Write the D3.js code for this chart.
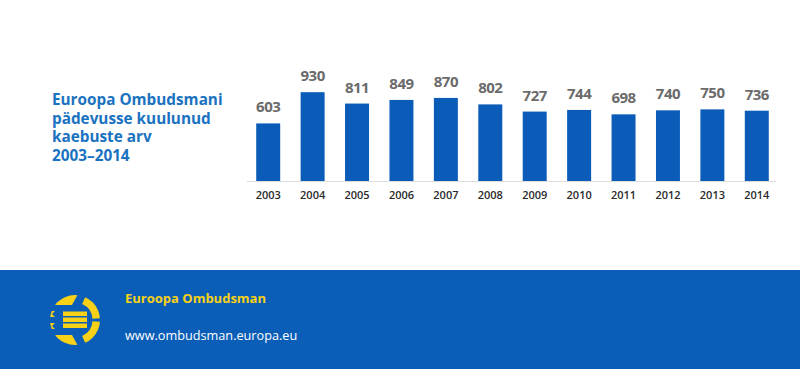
<!DOCTYPE html>
<html>
<head>
<meta charset="utf-8">
<script src="https://cdn.jsdelivr.net/npm/d3@7"></script>
<style>
    body { margin: 0; background: #fff; }
    svg { display: block; font-family: "Open Sans", sans-serif; }
</style>
</head>
<body>
<div id="chart"></div>
<script>
    "use strict";

    const years = ["2003", "2004", "2005", "2006", "2007", "2008", "2009", "2010", "2011", "2012", "2013", "2014"];
    const complaints = [603, 930, 811, 849, 870, 802, 727, 744, 698, 740, 750, 736];
    const titleLines = ["Euroopa Ombudsmani", "pädevusse kuulunud", "kaebuste arv", "2003–2014"];
    const footerName = "Euroopa Ombudsman";
    const footerUrl = "www.ombudsman.europa.eu";

    const width = 800;
    const height = 369;

    const svg = d3.select("#chart").append("svg")
        .attr("width", width)
        .attr("height", height);

    // title on the left
    svg.append("text")
        .attr("x", 52)
        .attr("y", 105)
        .attr("fill", "#1a72c0")
        .attr("font-size", 15.3)
        .attr("font-weight", 700)
        .selectAll("tspan")
        .data(titleLines)
        .join("tspan")
        .attr("x", 52)
        .attr("dy", (d, i) => i === 0 ? 0 : 18.7)
        .text(d => d);

    const xScale = d3.scaleBand()
        .domain(years)
        .range([246, 779])
        .paddingInner(0.46)
        .paddingOuter(0.23);

    const yScale = d3.scaleLinear()
        .domain([0, 1000])
        .range([181, 85.5]);

    svg.append("line")
        .attr("x1", 247)
        .attr("x2", 776)
        .attr("y1", yScale(0) + 0.5)
        .attr("y2", yScale(0) + 0.5)
        .attr("stroke", "#dcdcdc");

    svg.selectAll("rect.bar")
        .data(complaints)
        .join("rect")
        .attr("class", "bar")
        .attr("x", (d, i) => xScale(years[i]))
        .attr("width", xScale.bandwidth())
        .attr("y", d => yScale(d))
        .attr("height", d => yScale(0) - yScale(d))
        .attr("fill", "#0a5cb8");

    svg.selectAll("text.value")
        .data(complaints)
        .join("text")
        .attr("class", "value")
        .attr("x", (d, i) => xScale(years[i]) + xScale.bandwidth() / 2)
        .attr("y", d => yScale(d) - 11)
        .attr("text-anchor", "middle")
        .attr("font-size", 15)
        .attr("font-weight", 700)
        .attr("letter-spacing", -0.5)
        .attr("fill", "#6b6b6b")
        .text(d => d);

    const xAxis = svg.append("g")
        .attr("transform", `translate(0,${yScale(0)})`)
        .call(d3.axisBottom(xScale).tickSize(0).tickPadding(10));

    xAxis.select(".domain").remove();
    xAxis.selectAll("text")
        .attr("font-family", "Open Sans, sans-serif")
        .attr("font-size", 11)
        .attr("font-weight", 600)
        .attr("fill", "#2a2a2a");

    // footer band
    const footer = svg.append("g");

    footer.append("rect")
        .attr("x", 0)
        .attr("y", 270)
        .attr("width", width)
        .attr("height", height - 270)
        .attr("fill", "#0b5eb8");

    // logo
    const cx = 75, cy = 320, r = 25;
    const yellow = "#f7d117";

    svg.append("clipPath")
        .attr("id", "logo-clip")
        .append("circle")
        .attr("cx", cx)
        .attr("cy", cy)
        .attr("r", r);

    const logo = footer.append("g")
        .attr("clip-path", "url(#logo-clip)")
        .attr("fill", yellow);

    logo.append("path")
        .attr("d", `M${cx - 26},${cy - 26}L${cx + 3},${cy - 26}L${cx - 3},${cy - 15}L${cx - 26},${cy - 15}Z`);
    logo.append("path")
        .attr("d", `M${cx - 26},${cy + 26}L${cx + 3},${cy + 26}L${cx - 3},${cy + 15}L${cx - 26},${cy + 15}Z`);

    const ring = d3.arc().innerRadius(17.5).outerRadius(26);
    logo.append("path")
        .attr("transform", `translate(${cx},${cy})`)
        .attr("d", ring({ startAngle: 0.42, endAngle: 1.5 }));
    logo.append("path")
        .attr("transform", `translate(${cx},${cy})`)
        .attr("d", ring({ startAngle: Math.PI - 1.5, endAngle: Math.PI - 0.42 }));

    [-8.5, -2.5, 3.5].forEach(dy => {
        logo.append("rect")
            .attr("x", cx - 12)
            .attr("y", cy + dy)
            .attr("width", 24)
            .attr("height", 4.5);
    });

    [-9, 3].forEach(dy => {
        logo.append("path")
            .attr("d", `M${cx - 26},${cy + dy}L${cx - 20},${cy + dy}L${cx - 23},${cy + dy + 3}L${cx - 20},${cy + dy + 6}L${cx - 26},${cy + dy + 6}Z`);
    });

    footer.append("text")
        .attr("x", 125)
        .attr("y", 303)
        .attr("fill", yellow)
        .attr("font-size", 13)
        .attr("font-weight", 700)
        .text(footerName);

    footer.append("text")
        .attr("x", 125)
        .attr("y", 340)
        .attr("fill", "#fff")
        .attr("font-size", 12.7)
        .text(footerUrl);
</script>
</body>
</html>
